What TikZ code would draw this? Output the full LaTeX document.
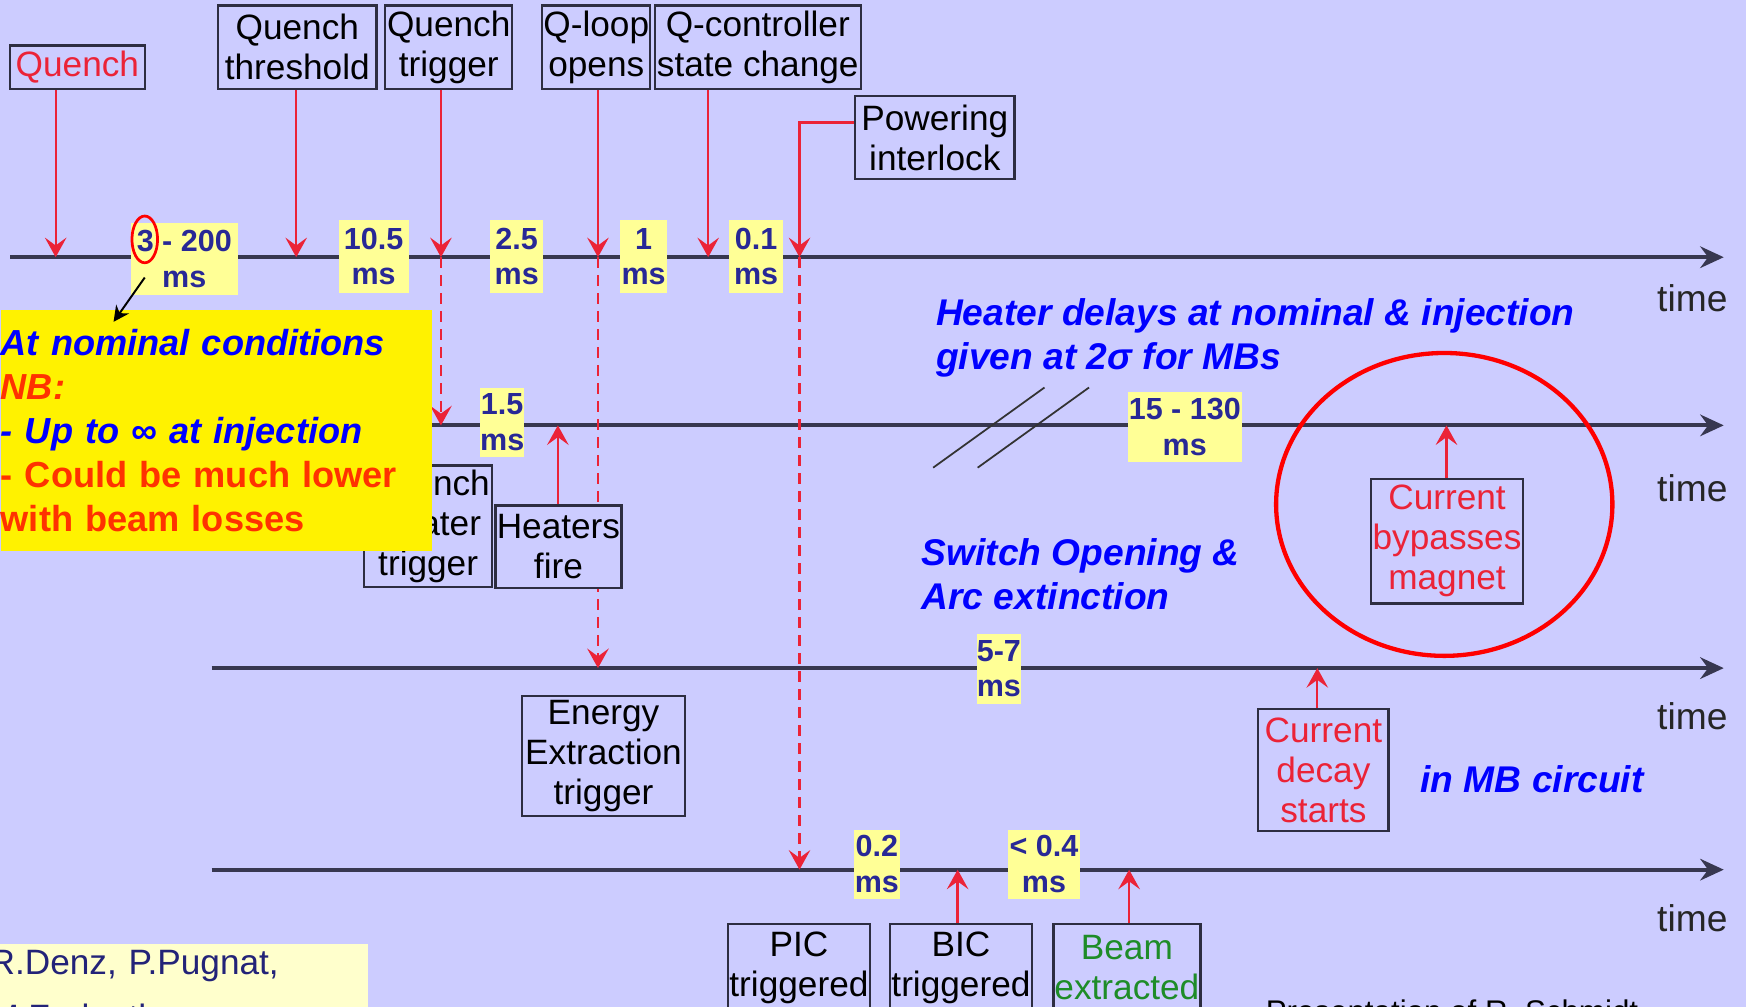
\documentclass[tikz,border=0pt]{standalone}
\usepackage{fontspec}
\setmainfont{Liberation Sans}
\usepackage{xcolor}
\usetikzlibrary{arrows.meta,shapes.geometric}
\definecolor{slidebg}{RGB}{204,204,255}
\definecolor{axisgrey}{RGB}{55,55,80}
\definecolor{boxline}{RGB}{45,45,65}
\definecolor{evred}{RGB}{235,35,55}
\definecolor{delayfill}{RGB}{255,255,150}
\definecolor{delaytext}{RGB}{40,40,150}
\definecolor{notered}{RGB}{255,50,0}
\definecolor{noteblue}{RGB}{0,0,255}
\definecolor{beamgreen}{RGB}{30,140,40}
\definecolor{creditfill}{RGB}{255,255,204}
\definecolor{creditblue}{RGB}{35,35,120}

\begin{document}
\begin{tikzpicture}[
    event/.style={draw=boxline, line width=0.6pt, fill=slidebg, align=center, inner sep=0pt,
                  font=\fontsize{9}{10.2}\selectfont},
    delay/.style={fill=delayfill, align=center, inner sep=0pt, text=delaytext,
                  font=\fontsize{7.8}{9.1}\selectfont\bfseries},
    tline/.style={line width=1pt, draw=axisgrey, -{Stealth[length=6pt,width=5.5pt,inset=2pt]}},
    trig/.style={evred, line width=0.6pt, -{Stealth[length=5pt,width=5.5pt,inset=2pt]}},
    delayed/.style={trig, dash pattern=on 2.8pt off 1.8pt},
    note/.style={text=noteblue, align=left, inner sep=0pt,
                 font=\fontsize{9.5}{11.3}\selectfont\bfseries\itshape},
    timelbl/.style={font=\fontsize{9.5}{11}\selectfont, text=black!85, inner sep=0pt}]

    \useasboundingbox (0,0) rectangle (15.68,-9.04);
    \clip (0,0) rectangle (15.68,-9.04);
    \fill[slidebg] (0,0) rectangle (15.68,-9.04);

    % time axes
    \foreach \n/\yy/\xs/\ty in {1/-2.31/0.09/-2.68, 2/-3.82/1.90/-4.38,
                                3/-6.00/1.90/-6.43, 4/-7.81/1.90/-8.25} {
        \coordinate (a\n) at (\xs,\yy);
        \coordinate (b\n) at (15.48,\yy);
        \draw[tline] (a\n) -- (b\n);
        \node[timelbl, anchor=east] (time\n) at (15.52,\ty) {time};
    }

    % where the events hit the axes
    \coordinate (q1) at (0.50,-2.31);
    \coordinate (th1) at (2.66,-2.31);
    \coordinate (tr1) at (3.96,-2.31);
    \coordinate (lo1) at (5.37,-2.31);
    \coordinate (sc1) at (6.36,-2.31);
    \coordinate (pi1) at (7.18,-2.31);
    \coordinate (pk) at (7.18,-1.10);
    \coordinate (tr2) at (3.96,-3.82);
    \coordinate (lo3) at (5.37,-6.00);
    \coordinate (pi4) at (7.18,-7.81);
    \coordinate (hf2) at (5.01,-3.82);
    \coordinate (cb2) at (12.99,-3.82);
    \coordinate (cd3) at (11.83,-6.00);
    \coordinate (bi4) at (8.60,-7.81);
    \coordinate (be4) at (10.14,-7.81);

    \draw[delayed] (tr1) -- (tr2);
    \draw[delayed] (lo1) -- (lo3);
    \draw[delayed] (pi1) -- (pi4);

    \node[event, text=evred, minimum width=1.21cm, minimum height=0.39cm] (qu) at (0.695,-0.605) {Quench};
    \node[event, minimum width=1.42cm, minimum height=0.75cm] (qth) at (2.67,-0.425) {Quench\\threshold};
    \node[event, minimum width=1.14cm, minimum height=0.75cm] (qtr) at (4.03,-0.425) {Quench\\trigger};
    \node[event, minimum width=0.97cm, minimum height=0.75cm] (qlo) at (5.355,-0.425) {Q-loop\\opens};
    \node[event, minimum width=1.85cm, minimum height=0.75cm] (qsc) at (6.805,-0.425) {Q-controller\\state change};
    \node[event, minimum width=1.43cm, minimum height=0.75cm] (pint) at (8.395,-1.235) {Powering\\interlock};

    \node[event, minimum width=1.15cm, minimum height=1.09cm] (qht) at (3.845,-4.725) {Quench\\Heater\\trigger};
    \node[event, minimum width=1.13cm, minimum height=0.74cm] (hf) at (5.015,-4.91) {Heaters\\fire};
    \node[event, minimum width=1.46cm, minimum height=1.08cm] (eet) at (5.42,-6.79) {Energy\\Extraction\\trigger};
    \node[event, text=evred, minimum width=1.37cm, minimum height=1.12cm] (cbm) at (12.995,-4.86) {Current\\bypasses\\magnet};
    \node[event, text=evred, minimum width=1.17cm, minimum height=1.09cm] (cds) at (11.885,-6.915) {Current\\decay\\starts};
    \node[event, minimum width=1.27cm, minimum height=0.78cm] (pic) at (7.175,-8.69) {PIC\\triggered};
    \node[event, minimum width=1.28cm, minimum height=0.78cm] (bic) at (8.63,-8.69) {BIC\\triggered};
    \node[event, text=beamgreen, minimum width=1.32cm, minimum height=0.78cm] (bex) at (10.12,-8.69) {Beam\\extracted};

    \foreach \src/\tgt in {qu/q1, qth/th1, qtr/tr1, qlo/lo1, qsc/sc1}
        \draw[trig] (\src.south -| \tgt) -- (\tgt);
    \draw[trig] (pint.west |- pk) -- (pk) -- (pi1);
    \foreach \src/\tgt in {hf/hf2, cbm/cb2, cds/cd3, bic/bi4, bex/be4}
        \draw[trig] (\src.north -| \tgt) -- (\tgt);

    % delays
    \node[delay, minimum width=0.96cm, minimum height=0.65cm] (d1) at (1.655,-2.325) {3 - 200\\ms};
    \node[delay, minimum width=0.63cm, minimum height=0.65cm] (d2) at (3.355,-2.305) {10.5\\ms};
    \node[delay, minimum width=0.48cm, minimum height=0.65cm] (d3) at (4.64,-2.305) {2.5\\ms};
    \node[delay, minimum width=0.42cm, minimum height=0.65cm] (d4) at (5.78,-2.305) {1\\ms};
    \node[delay, minimum width=0.48cm, minimum height=0.65cm] (d5) at (6.79,-2.305) {0.1\\ms};
    \node[delay, minimum width=0.40cm, minimum height=0.62cm] (d6) at (4.51,-3.79) {1.5\\ms};
    \node[delay, minimum width=1.02cm, minimum height=0.63cm] (d7) at (10.64,-3.835) {15 - 130\\ms};
    \node[delay, minimum width=0.40cm, minimum height=0.63cm] (d8) at (8.97,-6.005) {5-7\\ms};
    \node[delay, minimum width=0.41cm, minimum height=0.62cm] (d9) at (7.875,-7.76) {0.2\\ms};
    \node[delay, minimum width=0.65cm, minimum height=0.62cm] (d10) at (9.375,-7.76) {< 0.4\\ms};

    \node[ellipse, draw=red, line width=0.7pt, inner sep=0pt, minimum width=0.23cm,
          minimum height=0.42cm] (c3) at (1.30,-2.15) {};

    % NB box
    \node[fill=yellow, anchor=north west, minimum width=3.87cm, minimum height=2.16cm,
          text width=3.87cm, inner sep=0pt, align=left,
          font=\fontsize{9.25}{11.3}\selectfont\bfseries] (nb) at (0,-2.78)
        {{\color{noteblue}\itshape At nominal conditions}\\
         {\color{notered}\itshape NB:}\\
         {\color{noteblue}\itshape - Up to ∞ at injection}\\
         {\color{notered}- Could be much lower}\\
         {\color{notered}with beam losses}};
    \coordinate (nbtip) at (1.02,-2.89);
    \draw[-{Stealth[length=4pt,width=4pt]}, line width=0.5pt] ([yshift=-1.2mm]c3.south) -- (nbtip);

    \foreach \dx in {0,0.4}
        \draw[line width=0.45pt, black!80] (8.38+\dx,-4.20) -- ++(1.0,0.72);

    \node[note, anchor=north west] (hdel) at (8.40,-2.67)
        {Heater delays at nominal \& injection\\given at 2σ for MBs};
    \node[note, anchor=north west] (swop) at (8.27,-4.83) {Switch Opening \&\\Arc extinction};
    \node[note, anchor=north west] (mbc) at (12.75,-6.87) {in MB circuit};

    \node[ellipse, draw=red, line width=1.1pt, minimum width=3.02cm, minimum height=2.72cm] (ring) at (12.97,-4.53) {};

    \node[fill=creditfill, anchor=north west, text width=3.40cm, inner xsep=0pt, inner ysep=1.5pt,
          align=left, text=creditblue, font=\fontsize{9}{11.6}\selectfont] (cred) at (-0.10,-8.47)
        {R.Denz, P.Pugnat,\\[2.5pt]M.Zerlauth};
    \node[anchor=base west, inner sep=0pt, font=\fontsize{8}{10}\selectfont] (pres) at (11.36,-9.18)
        {Presentation of R. Schmidt};
\end{tikzpicture}
\end{document}
